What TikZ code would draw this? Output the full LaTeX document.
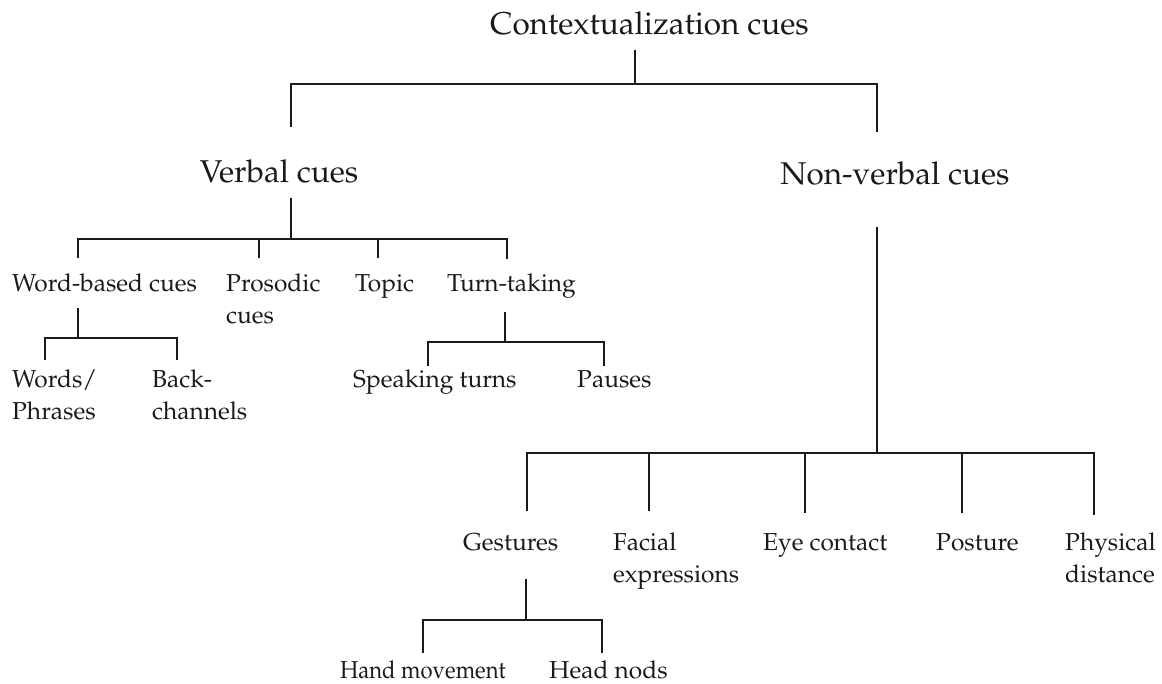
\documentclass[tikz,border=0pt]{standalone}
\usepackage[T1]{fontenc}
\usepackage{mathpazo}
\definecolor{ink}{HTML}{1A1A1A}
\tikzset{
  big/.style={inner sep=0pt, text=ink, font=\fontsize{31.5}{38}\selectfont},
  small/.style={inner sep=0pt, text=ink, font=\fontsize{24.5}{32}\selectfont},
  tree/.style={draw=ink, line width=2.9pt, line join=miter},
  treethin/.style={draw=ink, line width=2.3pt, line join=miter},
}
\newcommand{\twolines}[2]{\begin{tabular}[t]{@{}l@{}}#1\\#2\end{tabular}}
\begin{document}
\begin{tikzpicture}[x=1pt,y=-1pt]
\useasboundingbox[fill=white] (0,0) rectangle (1162,684);
% ---- texts ----
\node[big, anchor=base] (root) at (649.5,35) {Contextualization cues};
\node[big, anchor=base] (verbal) at (279,183) {Verbal cues};
\node[big, anchor=base] (nonverbal) at (895,185) {Non-verbal cues};
\node[small, anchor=base west] (wordbased) at (12,292) {Word-based cues};
\node[small, anchor=base west] (prosodic) at (226,292) {\twolines{Prosodic}{cues}};
\node[small, anchor=base west] (topic) at (355,292) {Topic};
\node[small, anchor=base west] (turntaking) at (447,292) {Turn-taking};
\node[small, anchor=base west] (words) at (12,388) {\twolines{Words/}{Phrases}};
\node[small, anchor=base west] (back) at (152,388) {\twolines{Back-}{channels}};
\node[small, anchor=base west] (speaking) at (353,388) {Speaking turns};
\node[small, anchor=base west] (pauses) at (577,388) {Pauses};
\node[small, anchor=base west] (gestures) at (463,550) {Gestures};
\node[small, anchor=base west] (facial) at (613,550) {\twolines{Facial}{expressions}};
\node[small, anchor=base west] (eye) at (763,550) {Eye contact};
\node[small, anchor=base west] (posture) at (936,550) {Posture};
\node[small, anchor=base west] (physical) at (1065,550) {\twolines{Physical}{distance}};
\node[small, anchor=base east] (hand) at (506,678) {\scalebox{0.9}[1]{Hand movement}};
\node[small, anchor=base west] (head) at (549,678) {Head nods};
% ---- connector end points ----
\coordinate (root-s) at (635,50);
\coordinate (bar-a) at (635,84);
\coordinate (verbal-t) at (291,127);
\coordinate (nonverbal-t) at (877,132);
\coordinate (verbal-s) at (291,198);
\coordinate (bar-b) at (291,239);
\coordinate (wordbased-t) at (78,258);
\coordinate (prosodic-t) at (259,258);
\coordinate (topic-t) at (378,258);
\coordinate (turntaking-t) at (507,259);
\coordinate (wordbased-s) at (78,308);
\coordinate (bar-c) at (78,338);
\coordinate (words-t) at (45,360);
\coordinate (back-t) at (177,360);
\coordinate (turntaking-s) at (505,312);
\coordinate (bar-d) at (505,342);
\coordinate (speaking-t) at (428,366);
\coordinate (pauses-t) at (604,366);
\coordinate (nonverbal-s) at (877,227);
\coordinate (bar-e) at (877,453);
\coordinate (gestures-t) at (527,511);
\coordinate (facial-t) at (649,511);
\coordinate (eye-t) at (805,513);
\coordinate (posture-t) at (962,513);
\coordinate (physical-t) at (1094,515);
\coordinate (gestures-s) at (526,579);
\coordinate (bar-f) at (526,620);
\coordinate (hand-t) at (423,653);
\coordinate (head-t) at (602,653);
% ---- connectors ----
\draw[tree] (root-s) -- (bar-a);
\draw[tree] (verbal-t) -- (verbal-t |- bar-a) -- (nonverbal-t |- bar-a) -- (nonverbal-t);
\draw[tree] (verbal-s) -- (bar-b);
\draw[tree] (wordbased-t) -- (wordbased-t |- bar-b) -- (turntaking-t |- bar-b) -- (turntaking-t);
\draw[tree] (prosodic-t) -- (prosodic-t |- bar-b);
\draw[tree] (topic-t) -- (topic-t |- bar-b);
\draw[tree] (wordbased-s) -- (bar-c);
\draw[tree] (words-t) -- (words-t |- bar-c) -- (back-t |- bar-c) -- (back-t);
\draw[tree] (turntaking-s) -- (bar-d);
\draw[tree] (speaking-t) -- (speaking-t |- bar-d) -- (pauses-t |- bar-d) -- (pauses-t);
\draw[treethin] (nonverbal-s) -- (bar-e);
\draw[treethin] (gestures-t) -- (gestures-t |- bar-e) -- (physical-t |- bar-e) -- (physical-t);
\draw[treethin] (facial-t) -- (facial-t |- bar-e);
\draw[treethin] (eye-t) -- (eye-t |- bar-e);
\draw[treethin] (posture-t) -- (posture-t |- bar-e);
\draw[tree] (gestures-s) -- (bar-f);
\draw[tree] (hand-t) -- (hand-t |- bar-f) -- (head-t |- bar-f) -- (head-t);
\end{tikzpicture}
\end{document}
